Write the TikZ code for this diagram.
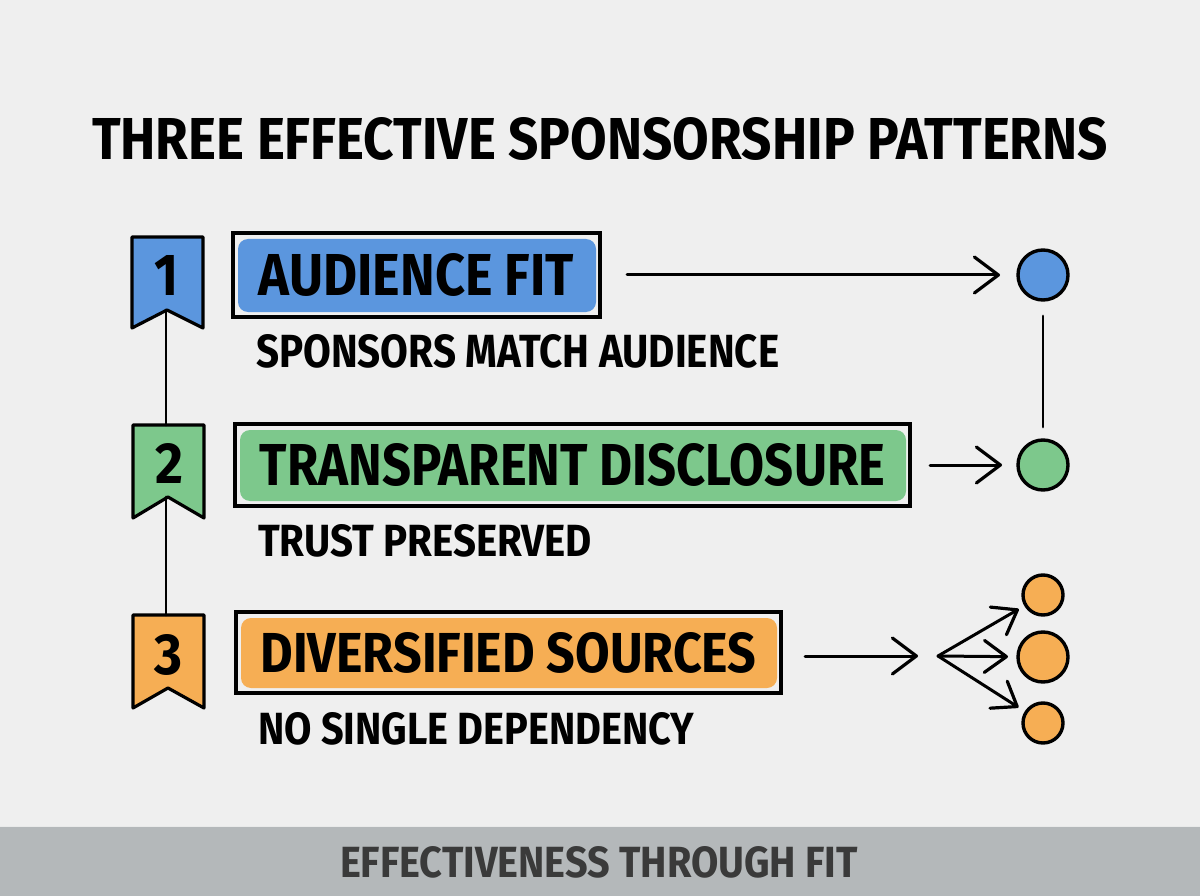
\documentclass[tikz,border=0pt]{standalone}
\usepackage{fontspec}
\usepackage{graphicx}
\usetikzlibrary{arrows.meta,calc}
\newfontfamily\hand{Fira Sans}
\definecolor{bgc}{HTML}{EFEFEF}
\definecolor{blueF}{HTML}{5B96DE}
\definecolor{greenF}{HTML}{7DC88C}
\definecolor{orangeF}{HTML}{F6AE54}
\definecolor{footF}{HTML}{B4B8BA}
\definecolor{footT}{HTML}{3A3A3A}
\pgfdeclarelayer{back}
\pgfdeclarelayer{hl}
\pgfsetlayers{back,hl,main}
\newcommand\fittext[3]{\resizebox{#1pt}{#2pt}{\hand\bfseries #3}}
\begin{document}
\begin{tikzpicture}[x=1pt,y=-1pt,
  txt/.style={inner sep=0pt,outer sep=0pt,anchor=south west},
  box/.style={draw,line width=3.6pt,inner sep=0pt,outer sep=0pt},
  badge/.style={draw,line width=3.2pt,line join=round},
  dot/.style={circle,draw,line width=3.4pt,inner sep=0pt,outer sep=0pt},
  link/.style={line width=2.8pt,line cap=round},
  arr/.style={line width=3pt,line cap=round,-{Straight Barb[length=24pt,width=36pt,line width=3.2pt,round]}},
  arrs/.style={line width=3pt,line cap=round,-{Straight Barb[length=22pt,width=32pt,line width=3.2pt,round]}},
  hlfill/.style={rounded corners=10pt}]
\useasboundingbox (0,0) rectangle (1200,896);
\begin{pgfonlayer}{back}
\fill[bgc] (0,0) rectangle (1200,896);
\fill[footF] (0,826) rectangle (1200,896);
\draw[white!70!footF,line width=1.5pt] (0,826.5) -- (1200,826.5);
\end{pgfonlayer}

% title
\node[txt] (title) at (92,161) {\fittext{1016}{42}{THREE EFFECTIVE SPONSORSHIP PATTERNS}};

% badges
\draw[badge,fill=blueF] (132,237) -- (203,237) -- (203,328) -- (167,310) -- (132,328) -- cycle;
\draw[badge,fill=greenF] (133,425) -- (204,425) -- (204,518) -- (168,497) -- (133,518) -- cycle;
\draw[badge,fill=orangeF] (133,615) -- (204,615) -- (204,708) -- (168,688) -- (133,708) -- cycle;
\node[inner sep=0pt] (d1) at (167,275) {\fittext{24}{40}{1}};
\node[inner sep=0pt] (d2) at (169,463) {\fittext{28}{40}{2}};
\node[inner sep=0pt] (d3) at (169,655) {\fittext{28}{40}{3}};
\coordinate (n1) at (166,310);
\coordinate (t2) at (166,425);
\coordinate (n2) at (166,497);
\coordinate (t3) at (166,615);
\draw[link] (n1) -- (t2);
\draw[link] (n2) -- (t3);

% boxes
\node[box,minimum width=367pt,minimum height=84pt] (b1) at (416.5,275) {\fittext{315}{42}{AUDIENCE FIT}};
\node[box,minimum width=675pt,minimum height=82pt] (b2) at (572.5,465) {\fittext{625}{42}{TRANSPARENT DISCLOSURE}};
\node[box,minimum width=545pt,minimum height=81pt] (b3) at (508.5,652.5) {\fittext{496}{40}{DIVERSIFIED SOURCES}};
\begin{pgfonlayer}{hl}
\fill[blueF,hlfill] ([shift={(5,6)}]b1.north west) rectangle ([shift={(-4,-5)}]b1.south east);
\fill[greenF,hlfill] ([shift={(5,6)}]b2.north west) rectangle ([shift={(-4,-5)}]b2.south east);
\fill[orangeF,hlfill] ([shift={(5,6)}]b3.north west) rectangle ([shift={(-4,-5)}]b3.south east);
\end{pgfonlayer}

% subtitles
\node[txt] (s1) at (256,368) {\fittext{523}{33}{SPONSORS MATCH AUDIENCE}};
\node[txt] (s2) at (258,557) {\fittext{334}{32}{TRUST PRESERVED}};
\node[txt] (s3) at (258,745) {\fittext{436}{32}{NO SINGLE DEPENDENCY}};

% circles
\node[dot,fill=blueF,minimum size=50pt] (c1) at (1043,275) {};
\node[dot,fill=greenF,minimum size=50pt] (c2) at (1043,465) {};
\node[dot,fill=orangeF,minimum size=40pt] (c3a) at (1043,595) {};
\node[dot,fill=orangeF,minimum size=50pt] (c3b) at (1043,657) {};
\node[dot,fill=orangeF,minimum size=40pt] (c3c) at (1043,723) {};
\coordinate (fork) at (938,656);

% connectors
\draw[arr] ([xshift=27pt]b1.east) -- ([xshift=-18pt]c1.west);
\draw[link] ([yshift=-16pt]c1.south) -- ([yshift=13pt]c2.north);
\draw[arr] ([xshift=20pt]b2.east) -- ([xshift=-16pt]c2.west);
\draw[arr] ($(b3.east|-fork)+(24,0)$) -- ($(fork)+(-20,0)$);
\draw[arrs,shorten >=8pt] (fork) -- (c3a);
\draw[arrs,shorten >=10pt] (fork) -- (c3b);
\draw[arrs,shorten >=9pt] (fork) -- (c3c);

% footer
\node[txt] (foot) at (340,878) {\color{footT}\fittext{518}{31}{EFFECTIVENESS THROUGH FIT}};
\end{tikzpicture}
\end{document}
